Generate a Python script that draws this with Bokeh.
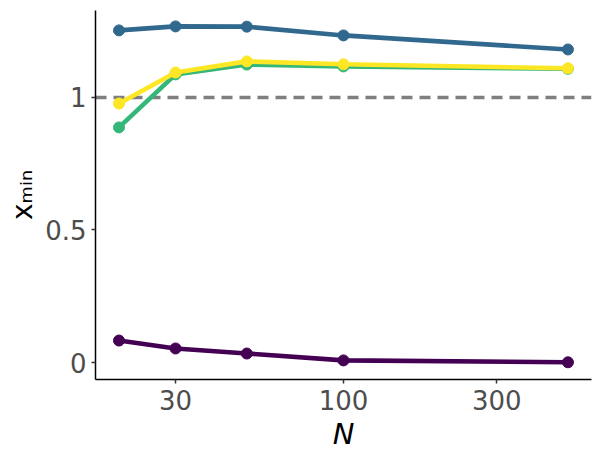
from bokeh.plotting import figure
from bokeh.models import Span, FixedTicker, Range1d
from bokeh.embed import file_html
from bokeh.resources import INLINE

# sample sizes
N = [20, 30, 50, 100, 500]

# estimated x_min for each setting
series_a = [0.083, 0.053, 0.034, 0.008, 0.001]
series_b = [1.253, 1.268, 1.267, 1.234, 1.181]
series_c = [0.887, 1.087, 1.124, 1.117, 1.108]
series_d = [0.977, 1.094, 1.136, 1.125, 1.110]

colors = ["#440154", "#31688e", "#35b779", "#fde725"]
x_ticks = [30, 100, 300]
y_ticks = [0, 0.5, 1]

p = figure(width=601, height=458, x_axis_type="log",
           x_range=Range1d(16.9, 592), y_range=Range1d(-0.064, 1.328),
           output_backend="svg", toolbar_location=None,
           min_border_left=95, min_border_right=10,
           min_border_top=10, min_border_bottom=79)
p.outline_line_color = None
p.xgrid.visible = False
p.ygrid.visible = False

# reference line at 1
p.add_layout(Span(location=1, dimension="width", line_color="#7f7f7f",
                  line_width=3.5, line_dash="11 7", level="underlay"))

for ys, c in zip([series_a, series_b, series_c, series_d], colors):
    p.line(N, ys, line_color=c, line_width=4.6)
    p.scatter(N, ys, size=11, fill_color=c, line_color=c)

for ax in (p.xaxis[0], p.yaxis[0]):
    ax.axis_line_color = "black"
    ax.axis_line_width = 1.5
    ax.major_tick_line_color = "#333333"
    ax.major_tick_line_width = 1.5
    ax.major_tick_out = 4
    ax.major_tick_in = 0
    ax.minor_tick_line_color = None
    ax.major_label_text_font = "DejaVu Sans"
    ax.major_label_text_font_size = "26px"
    ax.major_label_text_color = "#4d4d4d"
    ax.axis_label_text_font = "DejaVu Sans"
    ax.axis_label_text_color = "black"

p.xaxis.ticker = FixedTicker(ticks=x_ticks)
p.xaxis.major_label_overrides = {t: str(t) for t in x_ticks}
p.yaxis.ticker = FixedTicker(ticks=y_ticks)
p.yaxis.major_label_overrides = {0: "0", 0.5: "0.5", 1: "1"}
p.xaxis.major_label_standoff = 6
p.yaxis.major_label_standoff = 5

p.xaxis.axis_label = "N"
p.xaxis.axis_label_text_font_style = "italic"
p.xaxis.axis_label_text_font_size = "29px"
p.xaxis.axis_label_standoff = 4

# y title: x with a "min" subscript
p.yaxis.axis_label = "x\u2098\u1d62\u2099"
p.yaxis.axis_label_text_font_style = "normal"
p.yaxis.axis_label_text_font_size = "28px"
p.yaxis.axis_label_standoff = 3

open("out.html", "w").write(file_html(p, INLINE))
